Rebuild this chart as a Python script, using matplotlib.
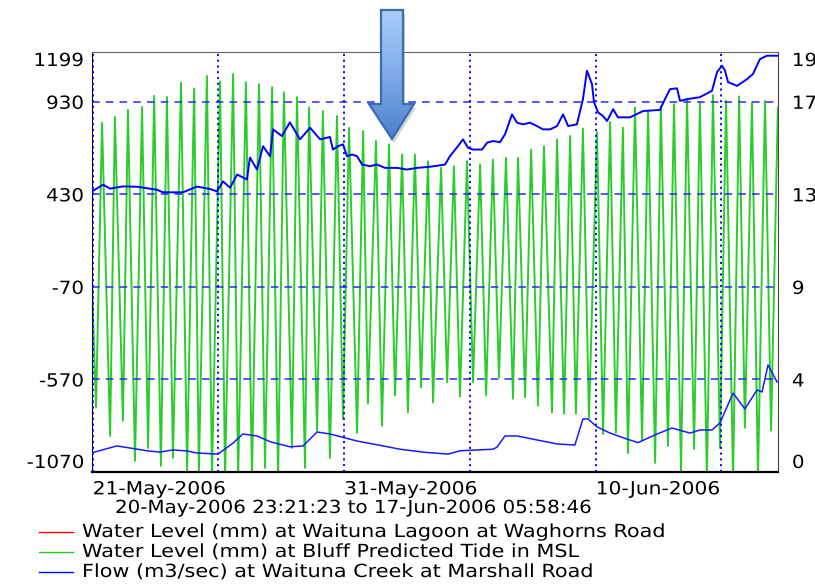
import numpy as np
import matplotlib
matplotlib.use('Agg')
import matplotlib.pyplot as plt
import matplotlib.dates as mdates
import matplotlib.transforms as mtransforms
from matplotlib.patches import Polygon
from matplotlib.patheffects import AbstractPathEffect
from matplotlib.colors import LinearSegmentedColormap
from datetime import datetime, timedelta

plt.rcParams['font.family'] = ['DejaVu Sans']
plt.rcParams['font.size'] = 13

start = datetime(2006, 5, 20, 23, 21, 23)
end = datetime(2006, 6, 17, 5, 58, 46)

tide_start_mm = -50
high_days = [0.40, 0.91, 1.43, 1.99, 2.47, 2.98, 3.54, 4.06, 4.57, 5.09,
             5.61, 6.12, 6.64, 7.16, 7.63, 8.15, 8.63, 9.18, 9.74, 10.22,
             10.78, 11.29, 11.81, 12.33, 12.84, 13.36, 13.88, 14.39, 14.91, 15.43,
             15.94, 16.46, 16.94, 17.46, 17.97, 18.49, 19.01, 19.52, 20.08, 20.60,
             21.11, 21.59, 22.11, 22.62, 23.14, 23.66, 24.17, 24.69, 25.21, 25.73,
             26.24, 26.76, 27.27]
high_mm = [817, 848, 886, 902, 962, 956, 1034, 1002, 1070, 1040,
           1080, 1036, 1025, 1009, 982, 955, 900, 879, 853, 790,
           772, 718, 700, 645, 645, 609, 573, 582, 609, 591,
           618, 627, 627, 672, 690, 727, 745, 785, 766, 821,
           790, 899, 880, 908, 917, 948, 926, 966, 935, 959,
           926, 935, 899]
low_days = [0.16, 0.72, 1.23, 1.71, 2.23, 2.74, 3.22, 3.78, 4.25, 4.77,
            5.29, 5.81, 6.36, 6.88, 7.40, 7.95, 8.47, 8.95, 9.46, 9.98,
            10.54, 10.97, 11.53, 12.05, 12.56, 13.08, 13.56, 14.12, 14.63, 15.15,
            15.67, 16.18, 16.74, 17.22, 17.73, 18.29, 18.77, 19.24, 19.76, 20.32,
            20.83, 21.31, 21.87, 22.39, 22.90, 23.42, 23.94, 24.45, 24.97, 25.49,
            25.96, 26.48, 27.00]
low_mm = [-722, -875, -793, -1010, -940, -1037, -994, -1064, -1064, -1100,
          -1100, -1100, -1100, -1048, -1100, -940, -1048, -847, -994, -782,
          -858, -701, -820, -657, -748, -612, -694, -585, -663, -585,
          -657, -560, -674, -666, -712, -748, -755, -755, -777, -864,
          -858, -967, -902, -1021, -929, -1064, -945, -1100, -940, -1100,
          -831, -1100, -847]

# upper blue trace (mm)
level_days = [0.00, 0.44, 0.72, 1.23, 1.79, 2.58, 2.82, 3.62, 4.17, 4.69,
              4.97, 5.21, 5.49, 5.77, 6.16, 6.28, 6.56, 6.80, 7.08, 7.20,
              7.55, 7.87, 8.27, 8.67, 9.07, 9.46, 9.58, 9.78, 9.98, 10.14,
              10.34, 10.54, 10.74, 11.05, 11.33, 11.65, 12.13, 12.52, 12.92, 13.44,
              14.04, 14.23, 14.55, 14.75, 14.95, 15.15, 15.51, 15.71, 15.94, 16.22,
              16.42, 16.70, 16.90, 17.14, 17.42, 17.69, 17.93, 18.21, 18.49, 18.73,
              18.93, 19.28, 19.52, 19.68, 19.88, 19.96, 20.12, 20.32, 20.48, 20.72,
              20.91, 21.39, 21.91, 22.58, 22.78, 22.98, 23.26, 23.38, 23.66, 24.17,
              24.65, 24.85, 25.05, 25.17, 25.29, 25.65, 26.04, 26.28, 26.56, 26.84,
              27.27]
level_mm = [446, 482, 461, 473, 471, 455, 441, 441, 472, 459,
            446, 500, 466, 537, 510, 629, 564, 690, 636, 781,
            745, 819, 727, 790, 727, 740, 672, 690, 700, 636,
            645, 636, 591, 582, 591, 573, 573, 564, 573, 579,
            591, 636, 690, 727, 682, 672, 672, 709, 718, 712,
            754, 862, 817, 808, 817, 799, 781, 781, 799, 862,
            799, 808, 944, 1098, 1025, 928, 873, 853, 826, 890,
            846, 846, 880, 886, 944, 998, 1003, 935, 944, 955,
            989, 1090, 1125, 1098, 1036, 1016, 1052, 1080, 1161, 1179,
            1179]

# flow (m3/sec), right axis
flow_days = [0.00, 0.99, 2.19, 2.70, 3.22, 3.78, 4.17, 5.01, 5.61, 6.00,
             6.56, 7.08, 7.87, 8.39, 8.95, 9.46, 10.54, 11.25, 12.25, 13.24,
             14.16, 14.63, 15.94, 16.10, 16.42, 16.90, 17.69, 18.49, 19.20, 19.52,
             19.72, 20.08, 20.60, 21.27, 21.71, 22.47, 23.06, 23.78, 24.17, 24.65,
             24.97, 25.49, 25.96, 26.44, 26.64, 26.88, 27.24]
flow_m3s = [0.87, 1.18, 0.96, 0.90, 1.00, 0.95, 0.86, 0.81, 1.31, 1.72,
            1.63, 1.37, 1.14, 1.18, 1.81, 1.72, 1.40, 1.25, 1.03, 0.89,
            0.81, 0.96, 1.03, 1.12, 1.63, 1.63, 1.45, 1.27, 1.22, 2.40,
            2.40, 2.04, 1.76, 1.49, 1.33, 1.72, 1.99, 1.76, 1.90, 1.90,
            2.22, 3.57, 2.85, 3.71, 3.62, 4.84, 4.07]

left_ticks = [-1070, -570, -70, 430, 930, 1199]
right_labels = ['0', '4', '9', '13', '17', '19']
grid_mm = [-570, -70, 430, 930]
date_labels = ['21-May-2006', '', '31-May-2006', '', '10-Jun-2006', '']
legend_names = ['Water Level (mm) at Waituna Lagoon at Waghorns Road',
                'Water Level (mm) at Bluff Predicted Tide in MSL',
                'Flow (m3/sec) at Waituna Creek at Marshall Road']
legend_colors = ['#ff0000', '#22cc22', '#0000ff']


class Stretch(AbstractPathEffect):
    """widen the glyphs horizontally (the original font is a wide one)"""
    def __init__(self, sx, anchor='left'):
        super().__init__()
        self.sx = sx
        self.anchor = anchor

    def draw_path(self, renderer, gc, tpath, affine, rgbFace=None):
        w = tpath.get_extents().x1 if self.anchor == 'right' else 0
        t = mtransforms.Affine2D().translate(-w, 0).scale(self.sx, 1).translate(w, 0)
        renderer.draw_path(gc, tpath, t + affine, rgbFace)


t0 = mdates.date2num(start)
t1 = mdates.date2num(end)

tide_days = np.concatenate([[0.0], low_days, high_days])
tide_vals = np.concatenate([[tide_start_mm], low_mm, high_mm])
order = np.argsort(tide_days)
tide_days = tide_days[order]
tide_vals = tide_vals[order]

fig = plt.figure(figsize=(8.15, 5.85), dpi=100)
ax = fig.add_axes([92/815, 1 - 472/585, 686/815, 420/585])
ax.set_xlim(t0, t1)
ax.set_ylim(-1070, 1199)

# tide
ax.plot(t0 + tide_days, tide_vals, color='#2ccc2c', lw=1.4, zorder=2)

# grid
grid_dates = [mdates.date2num(datetime(2006, 5, 21) + timedelta(days=5*k)) for k in range(6)]
for g in grid_mm:
    ax.axhline(g, color='#2a2aff', lw=1.1, linestyle=(0, (5, 4)), zorder=3)
for g in grid_dates:
    ax.axvline(g, color='#0000ee', lw=1.3, linestyle=(0, (1.2, 2)), zorder=3)

# upper blue trace
ax.plot(t0 + np.array(level_days), level_mm, color='#0000ff', lw=1.4, zorder=4)

ax.set_xticks(grid_dates)
ax.set_xticklabels(date_labels, ha='left')
shift = mtransforms.ScaledTranslation(-6/100, 0, fig.dpi_scale_trans)
for lab in ax.get_xticklabels():
    lab.set_transform(lab.get_transform() + shift)
    lab.set_path_effects([Stretch(1.12)])
ax.tick_params(axis='x', length=0, pad=6)
ax.set_yticks(left_ticks)
ax.set_yticklabels([str(v) for v in left_ticks])
ax.tick_params(axis='y', length=0, pad=6)
for lab in ax.get_yticklabels():
    lab.set_path_effects([Stretch(1.1, 'right')])

for s in ['left', 'bottom']:
    ax.spines[s].set_color('black')
ax.spines['bottom'].set_linewidth(1.6)
ax.spines['top'].set_color('#666666')
ax.spines['right'].set_color('#444444')

ax2 = ax.twinx()
ax2.set_ylim(0, 19)
ax2.plot(t0 + np.array(flow_days), flow_m3s, color='#1a1aff', lw=1.1)
right_pos = [(v + 1070) / 2269 * 19 for v in left_ticks]
ax2.set_yticks(right_pos)
ax2.set_yticklabels(right_labels)
ax2.tick_params(axis='y', length=0, pad=10)
for lab in ax2.get_yticklabels():
    lab.set_path_effects([Stretch(1.1)])
for s in ax2.spines.values():
    s.set_visible(False)

# edge labels sit inside the axis range
for a in (ax, ax2):
    ticks = a.yaxis.get_major_ticks()
    ticks[0].label1.set_va('bottom')
    ticks[0].label2.set_va('bottom')
    ticks[-1].label1.set_va('top')
    ticks[-1].label2.set_va('top')

fig.text(115/815, 1 - 508/585, '20-May-2006 23:21:23 to 17-Jun-2006 05:58:46',
         va='center', ha='left', fontsize=13, path_effects=[Stretch(1.1)])

# overlay in pixel coordinates for legend and arrow
ov = fig.add_axes([0, 0, 1, 1], zorder=10)
ov.set_xlim(0, 815)
ov.set_ylim(585, 0)
ov.axis('off')
ov.patch.set_alpha(0)

for i, (name, col) in enumerate(zip(legend_names, legend_colors)):
    y = 532 + 20 * i
    ov.plot([39, 73], [y, y], color=col, lw=1)
    ov.text(82, y, name, va='center', ha='left', fontsize=13,
            path_effects=[Stretch(1.15)])

arrow = [(381, 10), (403, 10), (403, 104), (414, 104), (392, 139), (369, 104), (381, 104)]
shadow = Polygon([(x + 2, y + 4) for x, y in arrow], closed=True,
                 facecolor='#888888', edgecolor='none', alpha=0.35, zorder=4)
ov.add_patch(shadow)
cmap = LinearSegmentedColormap.from_list('arr', ['#aacdfa', '#7fabe8', '#4a80c8'])
grad = np.linspace(0, 1, 256).reshape(-1, 1)
im = ov.imshow(grad, extent=[369, 414, 139, 10], cmap=cmap, aspect='auto', zorder=5)
poly = Polygon(arrow, closed=True, facecolor='none', edgecolor='#3c6db0', lw=1.6, zorder=6)
ov.add_patch(poly)
im.set_clip_path(poly)
ov.set_xlim(0, 815)
ov.set_ylim(585, 0)

fig.savefig('out.png', dpi=100)
